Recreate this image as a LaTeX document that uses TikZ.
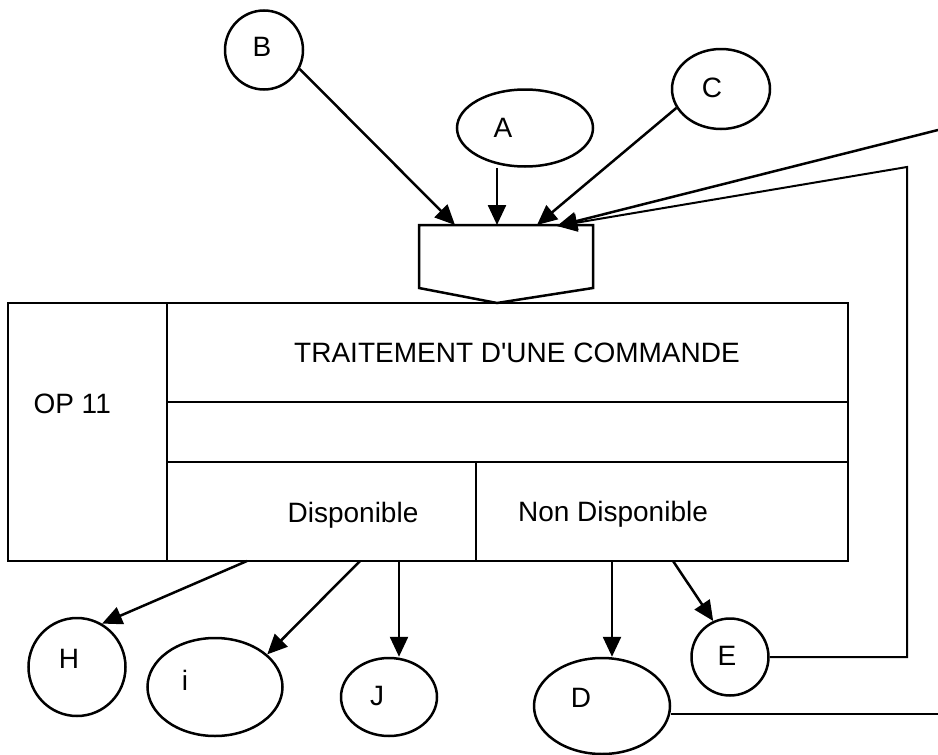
\documentclass[tikz,border=0pt]{standalone}
\usepackage{fontspec}
\setmainfont{Liberation Sans}[Ligatures=TeXOff]
\usetikzlibrary{arrows.meta, calc, positioning, shapes.geometric}
\tikzset{
    bulle/.style={draw, ellipse, line width=2.5pt, inner sep=0pt},
    trait/.style={line width=2.5pt},
    fleche/.style={line width=2.5pt, -{Triangle[length=20pt, width=18pt]}},
}
\newcommand{\bulle}[6]{
    \node[bulle, minimum width=#3, minimum height=#4] (#1) at (#2) {};
    \node[inner sep=0cm] (#1-t) at (#5) {#6};
}

\begin{document}
\begin{tikzpicture}[x=1pt, y=-1pt, font=\fontsize{28}{33}\selectfont]
    \useasboundingbox (0,0) rectangle (938,755);
    \bulle{b}{264,50}{78pt}{79pt}{262,47}{B}
    \bulle{a}{525,128}{136pt}{77pt}{503,128}{A}
    \bulle{c}{721,89}{98pt}{80pt}{712,88}{C}
    \bulle{h}{77,667}{97pt}{98pt}{69,659}{H}
    \bulle{i}{215,687}{135pt}{98pt}{185,680}{i}
    \bulle{j}{389,697}{96pt}{78pt}{377,696}{J}
    \bulle{d}{602,706}{136pt}{96pt}{581,698}{D}
    \bulle{e}{730,657}{77pt}{77pt}{727,656}{E}
    % synchronisation
    \draw[trait] (419,225) -- (593,225) -- (593,288) -- (497,303) -- (419,288) -- cycle;
    \coordinate (s-b) at (455,225);
    \coordinate (s-a) at (497,225);
    \coordinate (s-c) at (537,225);
    \coordinate (s-r) at (557,226);
    % operation
    \draw[trait] (8,303) rectangle (848,561);
    \draw[trait]
    (167,303) -- (167,561)
    (167,402) -- (848,402)
    (167,462) -- (848,462)
    (476,462) -- (476,561);
    \node[anchor=base west] (op) at (30,413) {OP 11};
    \node[anchor=base] (titre) at (517,362) {TRAITEMENT D'UNE COMMANDE};
    \node[anchor=base] (dispo) at (353,522) {Disponible};
    \node[anchor=base] (nondispo) at (613,521) {Non Disponible};
    \coordinate (m-h) at (247,561);
    \coordinate (m-i) at (360,561);
    \coordinate (m-j) at (399,561);
    \coordinate (m-d) at (612,561);
    \coordinate (m-e) at (673,561);
    \coordinate (k1) at (907,167);
    \coordinate (k2) at (938,130);
    \coordinate (k3) at (938,714);
    % connexions
    \draw[fleche] (b.-28) -- (s-b);
    \draw[fleche] (s-a |- a.south) -- (s-a);
    \draw[fleche] (c.203) -- (s-c);
    \draw[fleche] (k2) -- (s-r);
    \draw[fleche, line width=2pt] (e.east) -- (e.east -| k1) -- (k1) -- (s-r);
    \draw[trait, line width=2pt] (d.east |- k3) -- (k3);
    \draw[fleche] (m-h) -- (h.60);
    \draw[fleche] (m-i) -- (i.32);
    \draw[fleche] (m-j) -- (m-j |- j.north);
    \draw[fleche] (m-d) -- (m-d |- d.north);
    \draw[fleche] (m-e) -- (e.115);
\end{tikzpicture}
\end{document}
